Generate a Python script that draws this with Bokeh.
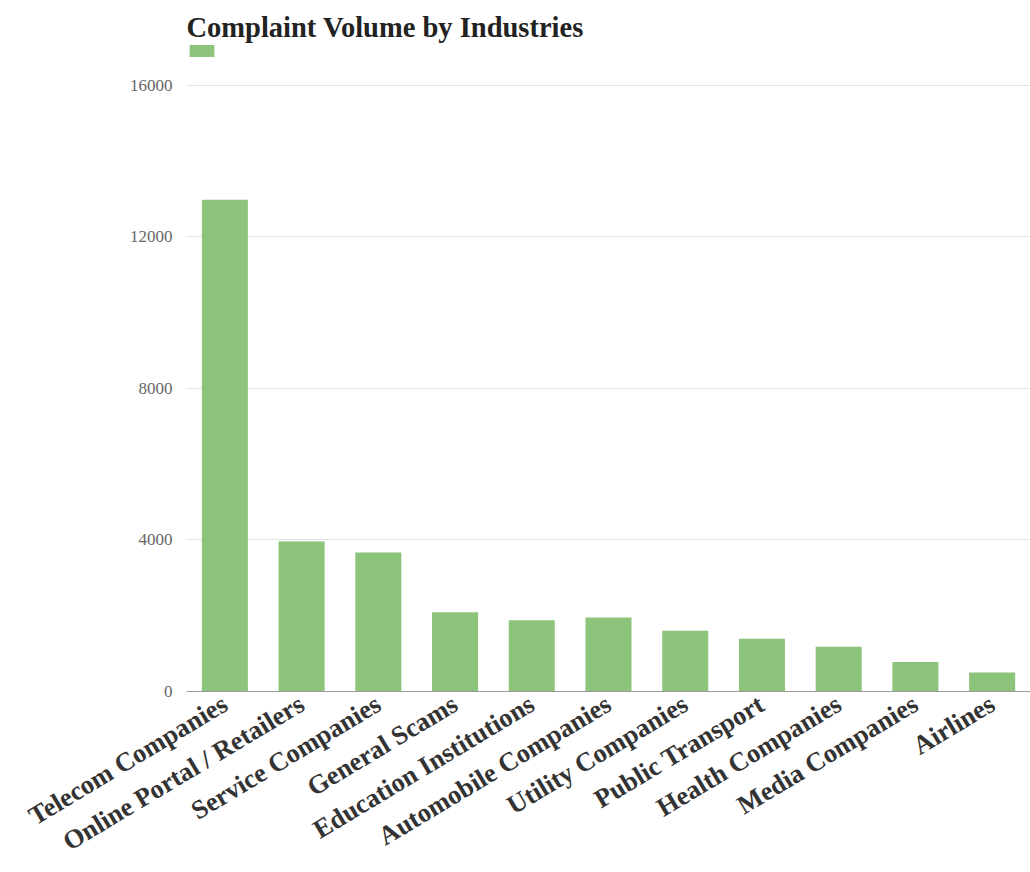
import math
from bokeh.plotting import figure
from bokeh.models import ColumnDataSource, Legend, LegendItem, FixedTicker, Range1d
from bokeh.embed import file_html
from bokeh.resources import INLINE

categories = ["Telecom Companies", "Online Portal / Retailers", "Service Companies",
              "General Scams", "Education Institutions", "Automobile Companies",
              "Utility Companies", "Public Transport", "Health Companies",
              "Media Companies", "Airlines"]
complaints = [12980, 3960, 3670, 2090, 1880, 1950, 1600, 1390, 1180, 780, 500]
y_ticks = [0, 4000, 8000, 12000, 16000]

source = ColumnDataSource(data=dict(industry=categories, volume=complaints))

p = figure(x_range=categories, y_range=Range1d(0, 17100), width=1030, height=872,
           output_backend="svg", toolbar_location=None,
           title="Complaint Volume by Industries",
           min_border_left=186, min_border_right=0, min_border_top=43, min_border_bottom=10)

r = p.vbar(x="industry", top="volume", width=0.6, source=source,
           fill_color="#8dc47b", line_color=None)

p.title.text_font = "Liberation Serif"
p.title.text_font_size = "28.5px"
p.title.text_font_style = "bold"
p.title.text_color = "#222222"
p.title.offset = 0
p.title.standoff = 1

legend = Legend(items=[LegendItem(label=" ", renderers=[r])], location="top_left",
                orientation="horizontal", border_line_alpha=0, background_fill_alpha=0,
                glyph_width=31, glyph_height=15, padding=0, margin=0, spacing=0,
                label_text_font_size="4px", label_standoff=0, label_width=1, label_height=15)
p.add_layout(legend, "center")

p.outline_line_color = None
p.background_fill_color = "white"
p.border_fill_color = "white"

p.yaxis.ticker = FixedTicker(ticks=y_ticks)
p.yaxis.axis_line_color = None
p.yaxis.major_tick_line_color = None
p.yaxis.minor_tick_line_color = None
p.yaxis.major_label_text_font = "Liberation Sans Narrow"
p.yaxis.major_label_text_font_size = "17px"
p.yaxis.major_label_text_color = "#666666"
p.yaxis.major_label_standoff = 8

p.ygrid.grid_line_color = "#e3e3e3"
p.xgrid.grid_line_color = None

p.xaxis.axis_line_color = "#9a9a9a"
p.xaxis.axis_line_width = 1
p.xaxis.major_tick_line_color = None
p.xaxis.minor_tick_line_color = None
p.xaxis.major_label_orientation = math.radians(31)
p.xaxis.major_label_text_font = "Liberation Serif"
p.xaxis.major_label_text_font_style = "bold"
p.xaxis.major_label_text_font_size = "26.5px"
p.xaxis.major_label_text_color = "#333333"
p.xaxis.major_label_standoff = 4

p.x_range.range_padding = 0

open("out.html", "w").write(file_html(p, INLINE))
